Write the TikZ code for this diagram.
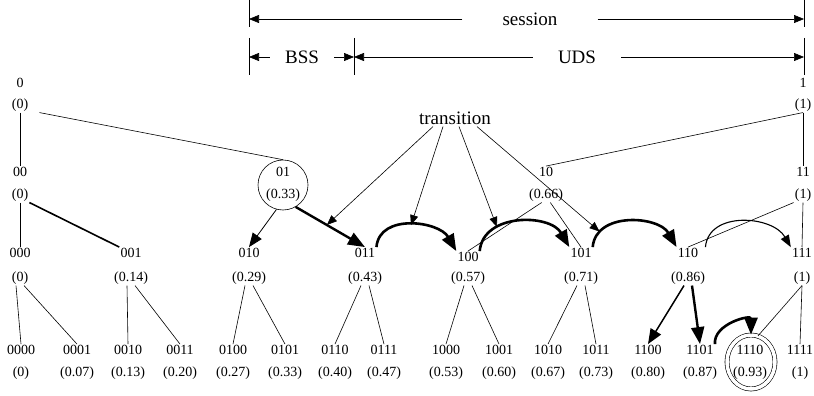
\documentclass[tikz,border=0pt]{standalone}
\usepackage{fontspec}
\setmainfont{Liberation Serif}
\usetikzlibrary{arrows.meta,shapes.geometric}
\tikzset{
    lbl/.style={font=\fontsize{14}{16}\selectfont, inner sep=1pt},
    big/.style={font=\fontsize{19}{22}\selectfont, inner ysep=2pt},
    tline/.style={line width=0.6pt},
    wline/.style={line width=1.6pt},
    tickline/.style={line width=0.7pt},
    dimarrow/.style={line width=0.6pt, -{Triangle[length=10pt,width=8pt]}},
    tarrow/.style={line width=0.6pt, -{Triangle[length=10pt,width=8pt]}},
    marrow/.style={line width=0.8pt, -{Triangle[length=14pt,width=11pt]}},
    narrow/.style={line width=1.5pt, -{Triangle[length=15pt,width=12pt]}},
    warrow/.style={line width=2.4pt, -{Triangle[length=17pt,width=13pt]}},
    harrow/.style={line width=2.6pt, -{Triangle[length=17pt,width=13pt]}},
    carrow/.style={line width=1.1pt, -{Triangle[length=12pt,width=9pt]}}
}
\begin{document}
\begin{tikzpicture}[x=1pt,y=1pt]
    \useasboundingbox (0,0) rectangle (814,-396);
    \coordinate (sL) at (249,-19);
    \coordinate (sR) at (804,-19);
    \coordinate (bL) at (249,-57);
    \coordinate (bM) at (354,-57);
    \coordinate (bR) at (804,-57);
    \node[big, inner xsep=40pt] (session) at (530,-19) {session};
    \node[big, inner xsep=15pt] (bss) at (302,-57) {BSS};
    \node[big, inner xsep=25pt] (uds) at (577,-57) {UDS};
    \foreach \c in {sL,sR} \draw[tickline] ([yshift=19pt]\c) -- ([yshift=-8pt]\c);
    \foreach \c in {bL,bM,bR} \draw[tickline] ([yshift=19pt]\c) -- ([yshift=-18pt]\c);
    \draw[dimarrow] (session) -- (sL);
    \draw[dimarrow] (session) -- (sR);
    \draw[dimarrow] (bss) -- (bL);
    \draw[dimarrow] (bss) -- (bM);
    \draw[dimarrow] (uds) -- (bM);
    \draw[dimarrow] (uds) -- (bR);

    \foreach \b/\x/\v in {0/20/0, 1/803/1} {
        \node[lbl] (l\b) at (\x,-83) {\b};
        \node[lbl] (v\b) at (\x,-105) {(\v)};
    }
    \foreach \b/\x/\v in {00/20/0, 01/283/0.33, 10/546/0.66, 11/803/1} {
        \node[lbl] (l\b) at (\x,-172) {\b};
        \node[lbl] (v\b) at (\x,-195) {(\v)};
    }
    \foreach \b/\x/\v/\y in {000/20/0/253, 001/131/0.14/253, 010/249/0.29/253, 011/365/0.43/253,
                            100/468/0.57/257, 101/581/0.71/253, 110/688/0.86/253, 111/802/1/253} {
        \node[lbl] (l\b) at (\x,-\y) {\b};
        \node[lbl] (v\b) at (\x,-278) {(\v)};
    }
    \foreach \b/\x/\v in {0000/21/0, 0001/77/0.07, 0010/128/0.13, 0011/180/0.20,
                          0100/233/0.27, 0101/285/0.33, 0110/335/0.40, 0111/384/0.47,
                          1000/446/0.53, 1001/499/0.60, 1010/548/0.67, 1011/596/0.73,
                          1100/648/0.80, 1101/700/0.87, 1110/750/0.93, 1111/800/1} {
        \node[lbl] (l\b) at (\x,-350) {\b};
        \node[lbl] (v\b) at (\x,-373) {(\v)};
    }
    \node[draw, circle, tline, minimum size=50pt, inner sep=0pt] (c01) at (283,-185) {};
    \node[draw, ellipse, tline, double, double distance=3.5pt, minimum width=48pt,
          minimum height=54pt, inner sep=0pt] (c1110) at (751,-362) {};
    \node[big] (tr) at (455,-118) {transition};

    \draw[tline] (v0.south) -- (l00.north);
    \draw[tline] ([xshift=10pt]v0.south east) -- (c01.north);
    \draw[tline] (v1.south) -- (l11.north);
    \draw[tline] (v1.south) -- (l10.north);
    \draw[tline] (v00.south) -- (l000.north);
    \draw[wline] (v00.south east) -- (l001.north west);
    \draw[marrow] (c01.-105) -- (l010.north);
    \draw[warrow] (c01.-60) -- coordinate[pos=0.45] (t1) (l011.north);
    \draw[tline] (v10.-120) -- (l100.north);
    \draw[tline] (v10.-60) -- (l101.north);
    \draw[tline] (v11.south) -- (l111.north);
    \draw[tline] (v11.south west) -- (l110.north);

    \draw[harrow] (l011.north east) to[out=85,in=120,looseness=1.1] coordinate[pos=0.5] (t2) (l100.north west);
    \draw[harrow] (l100.north east) to[out=85,in=120,looseness=1.1] coordinate[pos=0.3] (t3) (l101.north west);
    \draw[harrow] (l101.north east) to[out=85,in=120,looseness=1.1] coordinate[pos=0.18] (t4) (l110.north west);
    \draw[carrow] ([xshift=6pt]l110.north east) to[out=85,in=120,looseness=1.1] (l111.north west);
    \draw[tarrow] ([xshift=-22pt]tr.south) -- (t1);
    \draw[tarrow] ([xshift=-12pt]tr.south) -- (t2);
    \draw[tarrow] ([xshift=4pt]tr.south) -- (t3);
    \draw[tarrow] ([xshift=22pt]tr.south) -- (t4);

    \foreach \p in {000,001,010,011,100,101} {
        \draw[tline] ([xshift=-4pt]v\p.south) -- (l\p0.north);
        \draw[tline] ([xshift=4pt]v\p.south) -- (l\p1.north);
    }
    \draw[narrow] ([xshift=-4pt]v110.south) -- (l1100.north);
    \draw[warrow] ([xshift=4pt]v110.south) -- (l1101.north);
    \draw[tline] (v111.south) -- (c1110.75);
    \draw[tline] (v111.south) -- (l1111.north);
    \draw[harrow] (l1101.north east) to[out=95,in=90,looseness=1.4] (c1110.north);
\end{tikzpicture}
\end{document}
